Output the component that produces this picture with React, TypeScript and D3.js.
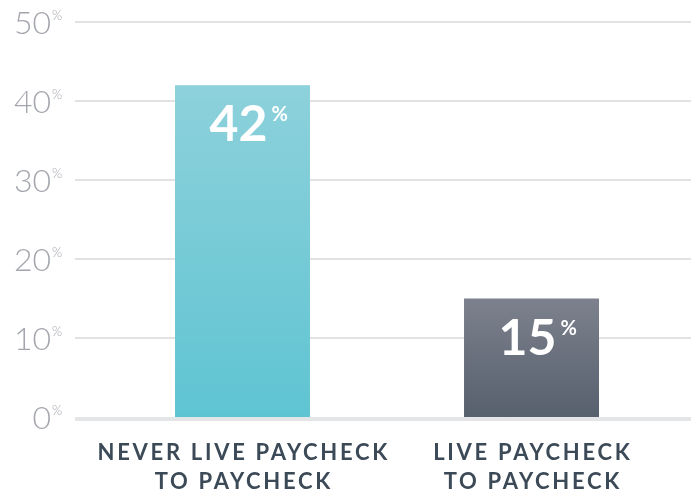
import { scaleBand, scaleLinear } from "d3";

const categories = ["NEVER LIVE PAYCHECK|TO PAYCHECK", "LIVE PAYCHECK|TO PAYCHECK"];
const values = [42, 15];
const yTicks = [0, 10, 20, 30, 40, 50];
const gradients = [
    ["#8dd1db", "#5fc4d2"],
    ["#7c818d", "#57606d"]
];

const W = 691;
const H = 493;
const margin = { top: 22, right: 0, bottom: 76, left: 75 };

export default function App() {
    const scaleY = scaleLinear()
        .domain([0, 50])
        .range([H - margin.bottom, margin.top]);
    const scaleX = scaleBand()
        .domain(categories)
        .range([margin.left, 699])
        .paddingInner(0.533)
        .paddingOuter(0.346);

    const font = "Lato, 'Open Sans', sans-serif";
    const spacing = 2.7;

    return (
        <div style={{ position: "fixed", left: 0, top: 0 }}>
            <svg width={W} height={H} style={{ display: "block" }}>
                <defs>
                    {gradients.map(([top, bottom], i) => (
                        <linearGradient key={i} id={`bar-grad-${i}`} x1="0" y1="0" x2="0" y2="1">
                            <stop offset="0%" stopColor={top} />
                            <stop offset="100%" stopColor={bottom} />
                        </linearGradient>
                    ))}
                </defs>

                {/* grid */}
                {yTicks.map((t) => (
                    <g key={`tick-${t}`}>
                        {t === 0 ? (
                            <rect
                                x={margin.left}
                                y={scaleY(0)}
                                width={W - margin.left}
                                height={4}
                                fill="#e4e5e7"
                            />
                        ) : (
                            <line
                                x1={margin.left}
                                x2={W}
                                y1={scaleY(t)}
                                y2={scaleY(t)}
                                stroke="#e2e2e2"
                                strokeWidth={2}
                            />
                        )}
                        <text
                            x={51}
                            y={scaleY(t) + 12}
                            textAnchor="end"
                            fontFamily={font}
                            fontWeight={300}
                            fontSize={32}
                            fill="#a3a6ad"
                        >
                            {t}
                        </text>
                        <text
                            x={52}
                            y={scaleY(t) - 2}
                            fontFamily={font}
                            fontWeight={300}
                            fontSize={13}
                            fill="#a3a6ad"
                        >
                            %
                        </text>
                    </g>
                ))}

                {/* bars */}
                {categories.map((c, i) => {
                    const x = scaleX(c) ?? 0;
                    const y = scaleY(values[i]);
                    const cx = x + scaleX.bandwidth() / 2;
                    return (
                        <g key={`bar-${c}`}>
                            <rect
                                x={x}
                                y={y}
                                width={scaleX.bandwidth()}
                                height={scaleY(0) - y}
                                fill={`url(#bar-grad-${i})`}
                            />
                            <text
                                x={cx - 4}
                                y={y + 56}
                                textAnchor="middle"
                                fontFamily={font}
                                fontWeight={700}
                                fontSize={50}
                                fill="#ffffff"
                            >
                                {values[i]}
                            </text>
                            <text
                                x={cx + 29}
                                y={y + 36}
                                fontFamily={font}
                                fontWeight={700}
                                fontSize={20}
                                fill="#ffffff"
                            >
                                %
                            </text>
                            {c.split("|").map((line, j) => (
                                <text
                                    key={line}
                                    x={cx + spacing / 2}
                                    y={460 + j * 29}
                                    textAnchor="middle"
                                    fontFamily={font}
                                    fontWeight={700}
                                    fontSize={22}
                                    letterSpacing={spacing}
                                    fill="#3c4a58"
                                >
                                    {line}
                                </text>
                            ))}
                        </g>
                    );
                })}
            </svg>
        </div>
    );
}
